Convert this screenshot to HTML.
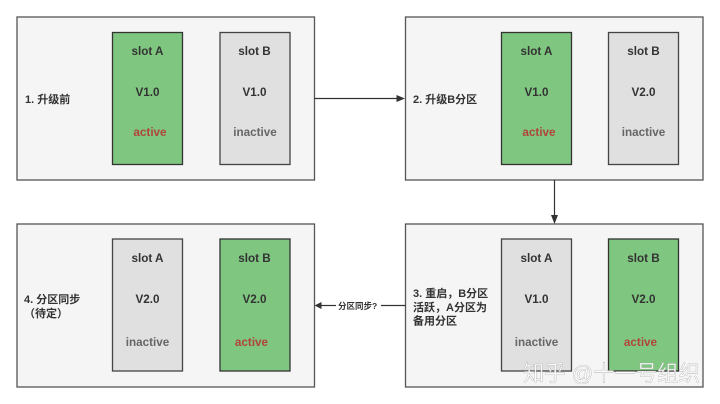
<!DOCTYPE html>
<html>
<head>
<meta charset="utf-8">
<style>
html,body{margin:0;padding:0;background:#fff;width:720px;height:404px;overflow:hidden}
svg{display:block}
text{font-family:"Liberation Sans","Noto Sans CJK SC",sans-serif;font-weight:bold;fill:#333}
.s{font-size:11.7px;text-anchor:middle}
.r{fill:#b0453a}
.g{fill:#666}
.l{font-size:11px}
.box{fill:#f5f5f5;stroke:#555;stroke-width:1.3}
.green{fill:#7fc780;stroke:#333;stroke-width:1.3}
.gray{fill:#e0e0e0;stroke:#444;stroke-width:1.3}
.ln{stroke:#333;stroke-width:1.2;fill:none}
</style>
</head>
<body>
<svg width="720" height="404" viewBox="0 0 720 404" xmlns="http://www.w3.org/2000/svg">
<g style="filter:blur(0.3px)">
<!-- Box 1 -->
<rect class="box" x="17" y="17" width="297.5" height="163"/>
<rect class="green" x="112.5" y="32.5" width="70" height="132"/>
<rect class="gray" x="220" y="32.5" width="70" height="132"/>
<text class="s" x="147.5" y="55">slot A</text>
<text class="s" x="254.5" y="55">slot B</text>
<text class="s" x="147.5" y="96">V1.0</text>
<text class="s" x="254.5" y="96">V1.0</text>
<text class="s r" x="150" y="136">active</text>
<text class="s g" x="255" y="136">inactive</text>
<text class="l" x="25" y="103">1. 升级前</text>

<!-- Box 2 -->
<rect class="box" x="405.5" y="17" width="297.5" height="163"/>
<rect class="green" x="501.5" y="32.5" width="70" height="132"/>
<rect class="gray" x="608.5" y="32.5" width="70" height="132"/>
<text class="s" x="536.5" y="55">slot A</text>
<text class="s" x="643.5" y="55">slot B</text>
<text class="s" x="536.5" y="96">V1.0</text>
<text class="s" x="643.5" y="96">V2.0</text>
<text class="s r" x="539" y="136">active</text>
<text class="s g" x="643.5" y="136">inactive</text>
<text class="l" x="413" y="103">2. 升级B分区</text>

<!-- Box 3 -->
<rect class="box" x="405.5" y="224" width="297.5" height="163"/>
<rect class="gray" x="501.5" y="239" width="70" height="132"/>
<rect class="green" x="608.5" y="239" width="70" height="132"/>
<text class="s" x="536.5" y="262">slot A</text>
<text class="s" x="643.5" y="262">slot B</text>
<text class="s" x="536.5" y="303">V1.0</text>
<text class="s" x="643.5" y="303">V2.0</text>
<text class="s g" x="536.5" y="346">inactive</text>
<text class="s r" x="640.5" y="346">active</text>
<text class="l" x="413" y="297">3. 重启，B分区</text>
<text class="l" x="413" y="311">活跃，A分区为</text>
<text class="l" x="413" y="324.5">备用分区</text>

<!-- Box 4 -->
<rect class="box" x="17" y="224" width="297.5" height="163"/>
<rect class="gray" x="112.5" y="239" width="70" height="132"/>
<rect class="green" x="220" y="239" width="70" height="132"/>
<text class="s" x="147.5" y="262">slot A</text>
<text class="s" x="254.5" y="262">slot B</text>
<text class="s" x="147.5" y="303">V2.0</text>
<text class="s" x="254.5" y="303">V2.0</text>
<text class="s g" x="147.5" y="346">inactive</text>
<text class="s r" x="251.5" y="346">active</text>
<text class="l" x="24" y="303">4. 分区同步</text>
<text class="l" x="24" y="317">（待定）</text>

<!-- Connectors -->
<line class="ln" x1="314.5" y1="98.5" x2="398" y2="98.5"/>
<polygon points="405,98.5 396.5,95 396.5,102" fill="#333"/>
<line class="ln" x1="554.5" y1="180" x2="554.5" y2="216"/>
<polygon points="554.5,224 551,215 558,215" fill="#333"/>
<line class="ln" x1="405.5" y1="305.5" x2="381" y2="305.5"/>
<line class="ln" x1="336" y1="305.5" x2="321" y2="305.5"/>
<polygon points="314.5,305.5 321.5,302 321.5,309" fill="#333"/>
<text x="338" y="309" style="font-size:8.5px">分区同步?</text>
</g>
<!-- Watermark -->
<text x="523" y="381" textLength="177" lengthAdjust="spacingAndGlyphs" style="font-size:22px;font-weight:normal;fill:#fff;fill-opacity:.9;stroke:#999;stroke-width:.3">知乎 @十一号组织</text>
</svg>
</body>
</html>
